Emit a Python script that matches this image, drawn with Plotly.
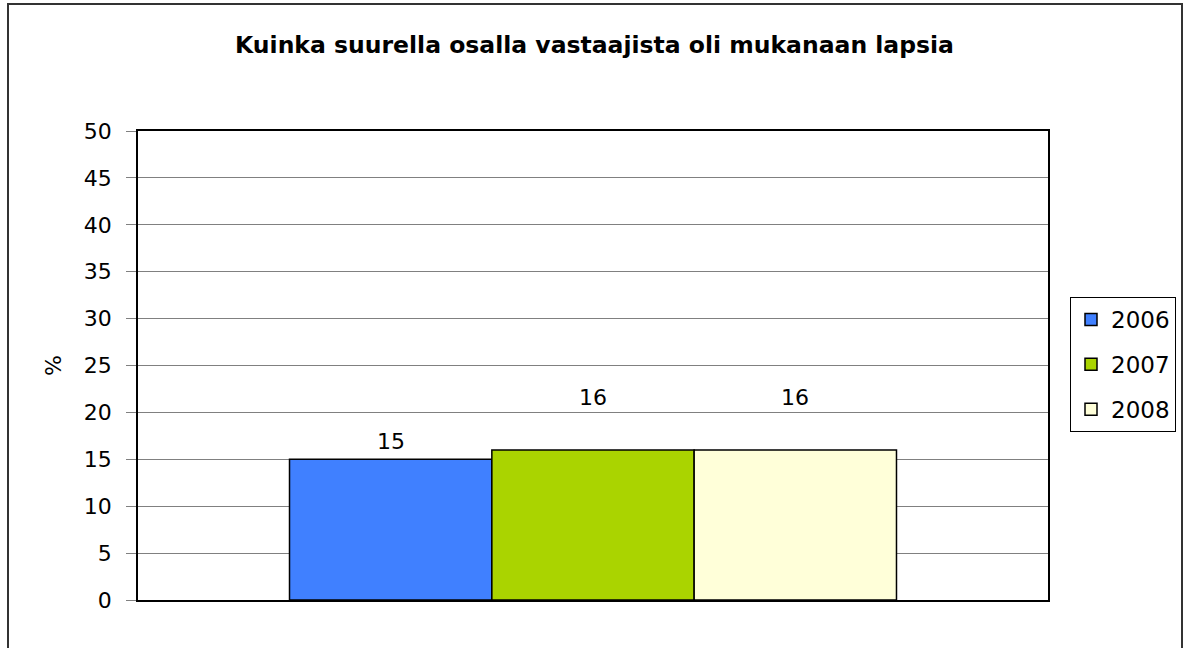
import plotly.graph_objects as go

# ---- data ----
category = ["Vastaajat"]
years = ["2006", "2007", "2008"]
values = [15, 16, 16]
title_text = "Kuinka suurella osalla vastaajista oli mukanaan lapsia"
y_title = "%"
y_ticks = [0, 5, 10, 15, 20, 25, 30, 35, 40, 45, 50]

# ---- styles ----
colors = ["#4080FF", "#AAD400", "#FFFFD9"]
label_shift = [18, 52, 52]
bargap = 0.333
FONT = "DejaVu Sans"

fig = go.Figure()
for yr, v, c in zip(years, values, colors):
    fig.add_trace(go.Bar(
        x=category, y=[v], name=yr, legendgroup=yr,
        marker=dict(color=c, line=dict(color="#000000", width=1.5)),
    ))

barw = (1 - bargap) / len(years)
for i, (v, s) in enumerate(zip(values, label_shift)):
    fig.add_annotation(
        x=(i - (len(years) - 1) / 2) * barw, xref="x", y=v, yref="y",
        text=str(v), showarrow=False, yshift=s, yanchor="middle",
        font=dict(family=FONT, size=22, color="#000000"),
    )

# outer border
fig.add_shape(type="rect", xref="paper", yref="paper",
              x0=(8 - 138) / 910, x1=(1182 - 138) / 910,
              y0=(600 - 700) / 469, y1=(600 - 4) / 469,
              line=dict(color="#333333", width=2), layer="below")

fig.update_layout(
    width=1189, height=648,
    margin=dict(l=138, r=141, t=131, b=48),
    paper_bgcolor="#FFFFFF", plot_bgcolor="#FFFFFF",
    barmode="group", bargap=bargap, bargroupgap=0,
    title=dict(text="<b>" + title_text + "</b>", x=0.5, xref="container",
               y=1 - 45 / 648, yanchor="middle", yref="container",
               font=dict(family=FONT, size=23.5, color="#000000")),
    showlegend=True,
    legend=dict(x=(1070 - 138) / 910, y=(600 - 297) / 469, xanchor="left", yanchor="top",
                bordercolor="#000000", borderwidth=1, bgcolor="#FFFFFF",
                font=dict(family=FONT, size=23, color="#000000"),
                tracegroupgap=12, itemwidth=30),
    font=dict(family=FONT, color="#000000"),
)
fig.update_xaxes(showticklabels=False, ticks="", showgrid=False,
                 showline=True, linecolor="#000000", linewidth=1.5, mirror=True)
fig.update_yaxes(range=[0, 50], tickvals=y_ticks, ticks="outside", ticklen=10,
                 tickcolor="#808080", showgrid=True, gridcolor="#808080", gridwidth=1,
                 showline=True, linecolor="#000000", linewidth=1.5, mirror=True,
                 ticklabelstandoff=10,
                 tickfont=dict(family=FONT, size=22, color="#000000"),
                 title=dict(text=y_title, standoff=16,
                            font=dict(family=FONT, size=22, color="#000000")),
                 zeroline=False)

fig.write_html("out.html", config={"displayModeBar": False},
               post_script="document.body.style.margin='0';")
